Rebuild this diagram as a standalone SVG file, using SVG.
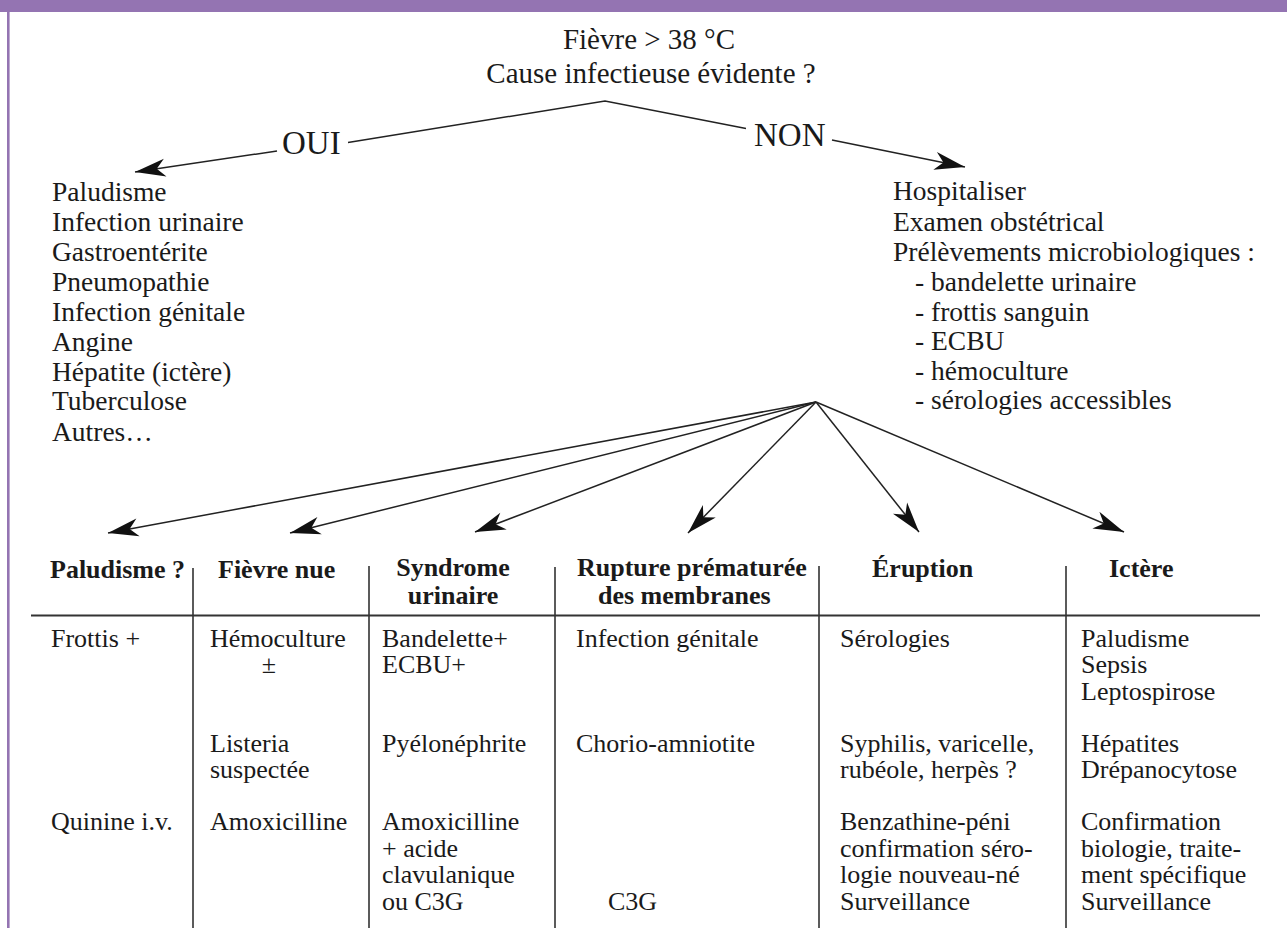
<svg xmlns="http://www.w3.org/2000/svg" width="1287" height="928" viewBox="0 0 1287 928">
  <style>
    text { font-family: "Liberation Serif", "Times New Roman", serif; fill: #1a1a1a; }
    .title { font-size: 29px; text-anchor: middle; }
    .branch { font-size: 33px; }
    .list { font-size: 27.5px; }
    .head { font-size: 26px; font-weight: bold; }
    .cell { font-size: 26px; }
    .conn { fill: none; stroke: #222; stroke-width: 1.5; }
    .rule { fill: none; stroke: #333; stroke-width: 2; }
    .col { fill: none; stroke: #333; stroke-width: 1.6; }
  </style>
  <defs>
    <marker id="arrow" markerUnits="userSpaceOnUse" viewBox="0 0 34 20" markerWidth="34" markerHeight="20" refX="32" refY="10" orient="auto">
      <path d="M32,10 L1.5,1 L10,10 L1.5,19 Z" fill="#111"/>
    </marker>
  </defs>

  <rect width="1287" height="928" fill="#ffffff"/>

  <!-- frame: band along the top and rule down the left side -->
  <g id="frame">
    <rect x="0" y="0" width="1287" height="12" fill="#9474b2"/>
    <rect x="7" y="12" width="2.6" height="916" fill="#9474b2"/>
  </g>

  <!-- connectors -->
  <g id="connectors">
    <path class="conn" d="M348,142.5 L605,101 L746,128.5"/>
    <path class="conn" d="M277,151 L135,172" marker-end="url(#arrow)"/>
    <path class="conn" d="M832,140 L965,167" marker-end="url(#arrow)"/>
    <path class="conn" d="M816,402 L108,533" marker-end="url(#arrow)"/>
    <path class="conn" d="M816,402 L290,533" marker-end="url(#arrow)"/>
    <path class="conn" d="M816,402 L475,532" marker-end="url(#arrow)"/>
    <path class="conn" d="M816,402 L688,533" marker-end="url(#arrow)"/>
    <path class="conn" d="M816,402 L919,532" marker-end="url(#arrow)"/>
    <path class="conn" d="M816,402 L1124,532" marker-end="url(#arrow)"/>
  </g>

  <g id="question">
    <text class="title" x="649" y="49">Fièvre &gt; 38 °C</text>
    <text class="title" x="651" y="83">Cause infectieuse évidente ?</text>
  </g>

  <g id="label-oui">
    <text class="branch" x="282" y="154">OUI</text>
  </g>
  <g id="label-non">
    <text class="branch" x="754" y="146">NON</text>
  </g>

  <g id="causes-evidentes">
    <text class="list" x="52" y="200.5">Paludisme</text>
    <text class="list" x="52" y="230.5">Infection urinaire</text>
    <text class="list" x="52" y="261">Gastroentérite</text>
    <text class="list" x="52" y="291">Pneumopathie</text>
    <text class="list" x="52" y="321">Infection génitale</text>
    <text class="list" x="52" y="351">Angine</text>
    <text class="list" x="52" y="381">Hépatite (ictère)</text>
    <text class="list" x="52" y="410">Tuberculose</text>
    <text class="list" x="52" y="441">Autres…</text>
  </g>

  <g id="bilan">
    <text class="list" x="893" y="200">Hospitaliser</text>
    <text class="list" x="893" y="230.5">Examen obstétrical</text>
    <text class="list" x="893" y="261">Prélèvements microbiologiques :</text>
    <text class="list" x="915" y="291">- bandelette urinaire</text>
    <text class="list" x="915" y="320.5">- frottis sanguin</text>
    <text class="list" x="915" y="350">- ECBU</text>
    <text class="list" x="915" y="379.5">- hémoculture</text>
    <text class="list" x="915" y="409">- sérologies accessibles</text>
  </g>

  <!-- table of orientations -->
  <g id="table-lines">
    <path class="rule" d="M31,615.5 H1260"/>
    <path class="col" d="M193,568 V928 M369,566 V928 M555,567 V928 M819,566 V928 M1066,566 V928"/>
  </g>

  <g id="col-paludisme">
    <text class="head" x="50" y="578">Paludisme ?</text>
    <text class="cell" x="51" y="646.5">Frottis +</text>
    <text class="cell" x="51" y="830">Quinine i.v.</text>
  </g>

  <g id="col-fievre-nue">
    <text class="head" x="218" y="578">Fièvre nue</text>
    <text class="cell" x="210" y="646.5">Hémoculture</text>
    <text class="cell" x="269" y="673" text-anchor="middle">±</text>
    <text class="cell" x="210" y="751.5">Listeria</text>
    <text class="cell" x="210" y="778">suspectée</text>
    <text class="cell" x="210" y="830">Amoxicilline</text>
  </g>

  <g id="col-syndrome-urinaire">
    <text class="head" x="453" y="576" text-anchor="middle">Syndrome</text>
    <text class="head" x="453" y="604" text-anchor="middle">urinaire</text>
    <text class="cell" x="382" y="646.5">Bandelette+</text>
    <text class="cell" x="382" y="673">ECBU+</text>
    <text class="cell" x="382" y="751.5">Pyélonéphrite</text>
    <text class="cell" x="382" y="830">Amoxicilline</text>
    <text class="cell" x="382" y="856.5">+ acide</text>
    <text class="cell" x="382" y="883">clavulanique</text>
    <text class="cell" x="382" y="910">ou C3G</text>
  </g>

  <g id="col-rupture">
    <text class="head" x="577" y="576">Rupture prématurée</text>
    <text class="head" x="598" y="604">des membranes</text>
    <text class="cell" x="576" y="646.5">Infection génitale</text>
    <text class="cell" x="576" y="751.5">Chorio-amniotite</text>
    <text class="cell" x="608" y="910">C3G</text>
  </g>

  <g id="col-eruption">
    <text class="head" x="872" y="577">Éruption</text>
    <text class="cell" x="840" y="646.5">Sérologies</text>
    <text class="cell" x="840" y="751.5">Syphilis, varicelle,</text>
    <text class="cell" x="840" y="778">rubéole, herpès ?</text>
    <text class="cell" x="840" y="830">Benzathine-péni</text>
    <text class="cell" x="840" y="856.5">confirmation séro-</text>
    <text class="cell" x="840" y="883">logie nouveau-né</text>
    <text class="cell" x="840" y="910">Surveillance</text>
  </g>

  <g id="col-ictere">
    <text class="head" x="1109" y="577">Ictère</text>
    <text class="cell" x="1081" y="646.5">Paludisme</text>
    <text class="cell" x="1081" y="673">Sepsis</text>
    <text class="cell" x="1081" y="699.5">Leptospirose</text>
    <text class="cell" x="1081" y="751.5">Hépatites</text>
    <text class="cell" x="1081" y="778">Drépanocytose</text>
    <text class="cell" x="1081" y="830">Confirmation</text>
    <text class="cell" x="1081" y="856.5">biologie, traite-</text>
    <text class="cell" x="1081" y="883">ment spécifique</text>
    <text class="cell" x="1081" y="910">Surveillance</text>
  </g>
</svg>
